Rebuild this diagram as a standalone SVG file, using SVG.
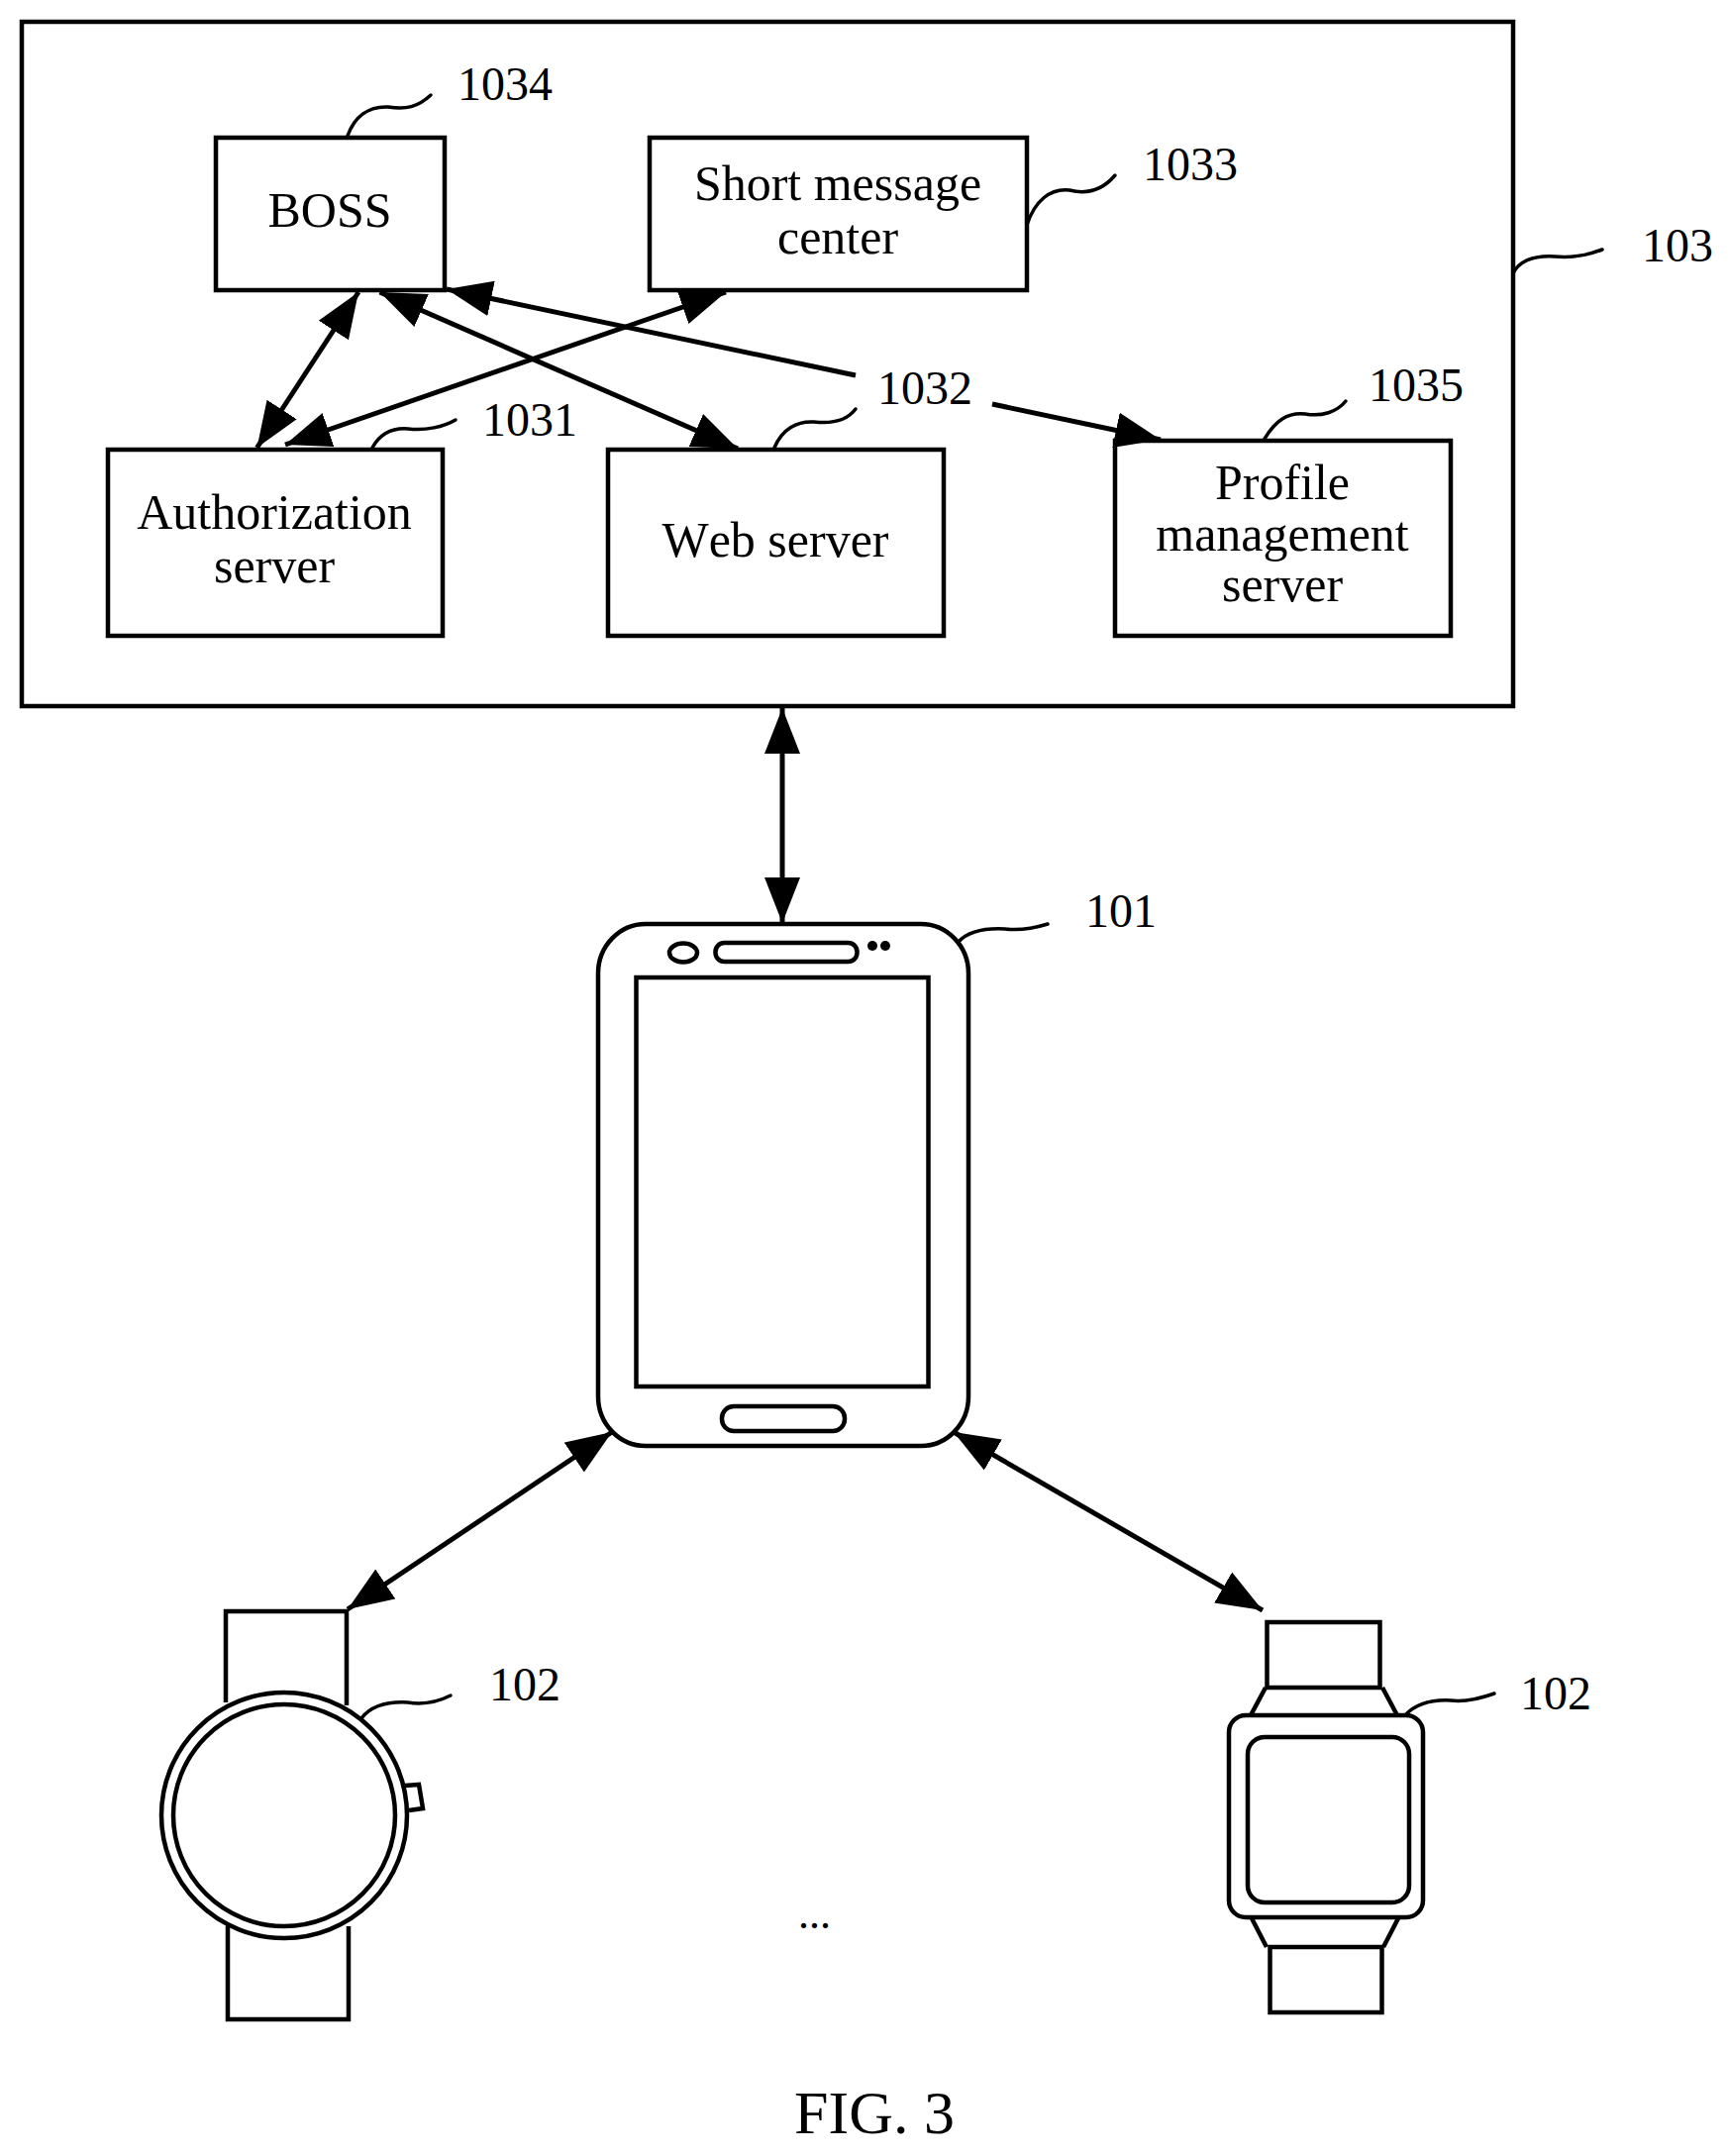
<svg xmlns="http://www.w3.org/2000/svg" width="1745" height="2177" viewBox="0 0 1745 2177">
<defs>
<style>
text{font-family:"Liberation Serif","Times New Roman",serif;fill:#000;font-kerning:none}
.t{font-size:50px;text-anchor:middle}
.n{font-size:48px}
.s{fill:#fff;stroke:#000;stroke-width:4.5}
.o{fill:none;stroke:#000;stroke-width:4.5}
.l{fill:none;stroke:#000;stroke-width:3.5;stroke-linecap:round}
.c{stroke:#000;stroke-width:5;fill:none}
.b{marker-start:url(#h);marker-end:url(#h)}
.e{marker-end:url(#h)}
</style>
<marker id="h" markerUnits="userSpaceOnUse" markerWidth="48" markerHeight="38" refX="46" refY="19" orient="auto-start-reverse">
<path d="M46,19 L0,1 L0,37 Z" fill="#000"/>
</marker>
</defs>
<rect width="1745" height="2177" fill="#fff"/>
<g id="node-103"><rect class="o" x="22" y="22" width="1506" height="691"/><path class="l" d="M1528,276 C1535,262 1550,258 1570,259 C1590,261 1605,257 1618,252"/><text class="n" x="1658" y="264">103</text></g>
<g id="node-1034"><rect class="s" x="218" y="139" width="231" height="154"/><text class="t" x="333" y="229">BOSS</text><path class="l" d="M351,137 C358,118 372,107 392,108 C410,111 422,108 435,96"/><text class="n" x="462" y="101">1034</text></g>
<g id="node-1033"><rect class="s" x="656" y="139" width="381" height="154"/><text class="t" x="846" y="202">Short message</text><text class="t" x="846" y="256">center</text><path class="l" d="M1037,227 C1045,203 1060,190 1080,192 C1100,197 1115,190 1126,177"/><text class="n" x="1154" y="182">1033</text></g>
<g id="node-1031"><rect class="s" x="109" y="454" width="338" height="188"/><text class="t" x="277" y="534">Authorization</text><text class="t" x="277" y="588">server</text><path class="l" d="M376,452 C385,436 398,432 412,433 C430,435 448,431 460,424"/><text class="n" x="487" y="440">1031</text></g>
<g id="node-1032"><rect class="s" x="614" y="454" width="339" height="188"/><text class="t" x="783" y="562">Web server</text><path class="l" d="M782,452 C790,433 805,425 822,426 C840,428 855,425 864,413"/><text class="n" x="886" y="408">1032</text></g>
<g id="node-1035"><rect class="s" x="1126" y="445" width="339" height="197"/><text class="t" x="1295" y="504">Profile</text><text class="t" x="1295" y="556">management</text><text class="t" x="1295" y="607">server</text><path class="l" d="M1277,443 C1288,425 1300,416 1318,418 C1335,421 1350,416 1359,405"/><text class="n" x="1382" y="405">1035</text></g>
<g id="node-101">
<rect class="s" x="604" y="933" width="374" height="527" rx="48" ry="50"/>
<rect class="o" x="642.500" y="987" width="295" height="413"/>
<ellipse class="o" cx="690" cy="962" rx="14" ry="9.500"/>
<rect class="o" x="722.500" y="952" width="143" height="19" rx="9"/>
<circle cx="881" cy="955" r="5" fill="#000"/>
<circle cx="894" cy="955" r="5" fill="#000"/>
<rect class="o" x="729" y="1420" width="124" height="25" rx="12"/>
<path class="l" d="M968,951 C978,940 995,937 1015,938 C1030,940 1045,937 1058,933"/>
<text class="n" x="1096" y="936">101</text>
</g>
<g id="node-102-round">
<path class="o" d="M228,1719 V1627 H350 V1722"/>
<path class="o" d="M230,1945 V2039 H352 V1945"/>
<circle class="s" cx="287" cy="1833" r="124"/>
<circle class="o" cx="287" cy="1833" r="112"/>
<path class="o" d="M409,1803 L423,1802 L427,1826 L413,1828"/>
<path class="l" d="M365,1735 C375,1722 392,1718 412,1719 C430,1722 445,1717 455,1712"/>
<text class="n" x="494" y="1717">102</text>
</g>
<g id="node-102-square">
<rect class="o" x="1279.500" y="1638" width="114" height="66"/>
<path class="o" d="M1278,1704 L1263,1732 M1396,1704 L1411,1732"/>
<rect class="o" x="1241" y="1732" width="196" height="204" rx="17"/>
<rect class="o" x="1260" y="1754" width="163" height="167" rx="17"/>
<path class="o" d="M1264,1937 L1279,1966 M1412,1937 L1397,1966"/>
<rect class="o" x="1282.500" y="1966" width="113" height="66"/>
<path class="l" d="M1419,1732 C1430,1720 1445,1716 1465,1717 C1480,1719 1495,1715 1509,1710"/>
<text class="n" x="1535" y="1726">102</text>
</g>
<g id="connectors">
<line class="c b" x1="362" y1="295" x2="259.500" y2="452"/>
<line class="c b" x1="383.500" y1="295" x2="745" y2="453"/>
<line class="c b" x1="733" y1="295" x2="288" y2="449"/>
<line class="c e" x1="864" y1="379" x2="451" y2="292"/>
<line class="c e" x1="1002" y1="408" x2="1172" y2="444"/>
<line class="c b" x1="790" y1="715" x2="790" y2="932"/>
<line class="c b" x1="618" y1="1446" x2="351" y2="1625"/>
<line class="c b" x1="963" y1="1446" x2="1275" y2="1626"/>
</g>
<text id="ellipsis" x="806" y="1947" style="font-size:44px">...</text>
<text id="caption" x="802" y="2154" style="font-size:62px">FIG. 3</text>
</svg>
